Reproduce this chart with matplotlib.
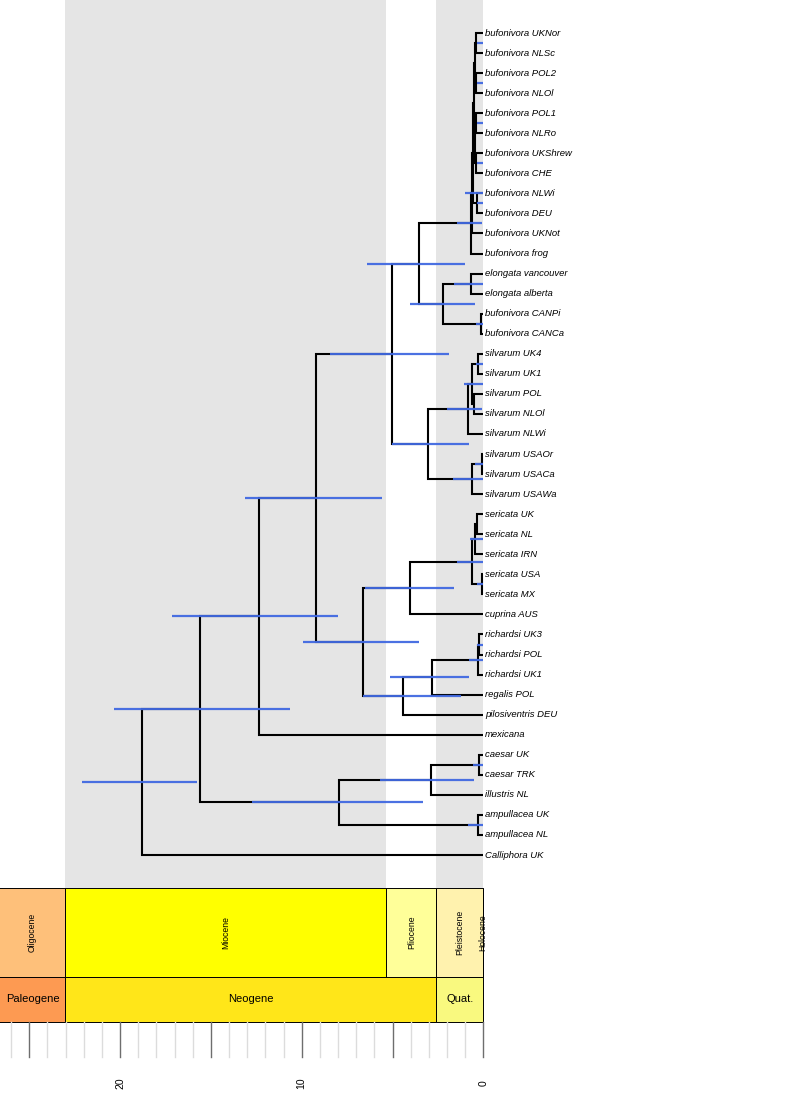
import matplotlib
matplotlib.use("Agg")
import matplotlib.pyplot as plt
from matplotlib.patches import Rectangle

plt.rcParams["font.family"] = ["Liberation Sans", "DejaVu Sans"]

# tips, top to bottom
tip_labels = [
    "bufonivora UKNor", "bufonivora NLSc", "bufonivora POL2", "bufonivora NLOl",
    "bufonivora POL1", "bufonivora NLRo", "bufonivora UKShrew", "bufonivora CHE",
    "bufonivora NLWi", "bufonivora DEU", "bufonivora UKNot", "bufonivora frog",
    "elongata vancouver", "elongata alberta", "bufonivora CANPi", "bufonivora CANCa",
    "silvarum UK4", "silvarum UK1", "silvarum POL", "silvarum NLOl", "silvarum NLWi",
    "silvarum USAOr", "silvarum USACa", "silvarum USAWa",
    "sericata UK", "sericata NL", "sericata IRN", "sericata USA", "sericata MX",
    "cuprina AUS", "richardsi UK3", "richardsi POL", "richardsi UK1", "regalis POL",
    "pilosiventris DEU", "mexicana", "caesar UK", "caesar TRK", "illustris NL",
    "ampullacea UK", "ampullacea NL", "Calliphora UK",
]

# internal nodes (children before parents); ints are tip indices
node_names = ["a1", "a2", "a3", "a4", "a5", "a6", "a7", "a8", "a9", "a10", "a11",
              "b1", "b2", "b3", "c1",
              "d1", "d2", "d3", "d4", "d5", "d6", "d7", "e1",
              "f1", "f2", "f3", "f4", "f5", "g1", "g2", "g3", "g4", "h1", "i1", "j1",
              "k1", "k2", "k3", "k4", "l1", "root"]
node_children = [(0, 1), (2, 3), (4, 5), (6, 7), ("a1", "a2"), ("a3", "a4"), ("a5", "a6"),
                 (8, 9), ("a7", "a8"), ("a9", 10), ("a10", 11),
                 (12, 13), (14, 15), ("b1", "b2"), ("a11", "b3"),
                 (16, 17), (18, 19), ("d1", "d2"), ("d3", 20), (21, 22), ("d5", 23),
                 ("d4", "d6"), ("c1", "d7"),
                 (24, 25), ("f1", 26), (27, 28), ("f2", "f3"), ("f4", 29),
                 (30, 31), ("g1", 32), ("g2", 33), ("g3", 34), ("f5", "g4"),
                 ("e1", "h1"), ("i1", 35),
                 (36, 37), ("k1", 38), (39, 40), ("k2", "k3"), ("j1", "k4"), ("l1", 41)]
node_ages = [0.38, 0.38, 0.38, 0.38, 0.48, 0.48, 0.53, 0.37, 0.57, 0.61, 0.69,
             0.68, 0.14, 2.20, 3.52,
             0.27, 0.51, 0.60, 0.86, 0.09, 0.64, 3.06, 5.01,
             0.33, 0.46, 0.09, 0.64, 4.04, 0.22, 0.31, 2.84, 4.40, 6.61, 9.21, 12.33,
             0.25, 2.88, 0.31, 7.96, 15.60, 18.81]
# 95% HPD of node ages (None = no bar drawn)
hpd_low = [0.0, 0.0, 0.0, 0.0, None, None, None, 0.0, None, 0.03, 0.09,
           0.0, 0.0, 0.46, 1.00,
           0.0, None, 0.0, 0.09, 0.0, 0.0, 0.77, 1.87,
           None, 0.0, 0.0, 0.03, 1.61, 0.0, 0.0, 0.79, 1.24, 3.52, 5.60, 8.02,
           0.0, 0.51, 0.0, 3.32, 10.64, 15.75]
hpd_high = [0.33, 0.33, 0.33, 0.33, None, None, None, 0.33, None, 1.01, 1.46,
            1.60, 0.42, 4.04, 6.39,
            0.40, None, 1.05, 2.00, 0.46, 1.65, 5.04, 8.44,
            None, 0.73, 0.36, 1.43, 6.51, 0.36, 0.77, 5.14, 6.61, 9.93, 13.10, 17.16,
            0.55, 5.69, 0.86, 12.75, 20.34, 22.08]

epoch_names = ["Oligocene", "Miocene", "Pliocene", "Pleistocene", "Holocene"]
epoch_start = [33.9, 23.03, 5.333, 2.58, 0.0117]
epoch_end = [23.03, 5.333, 2.58, 0.0117, 0.0]
epoch_colors = ["#FEC07A", "#FFFF00", "#FFFF99", "#FFF2AE", "#FEF2E0"]
shaded = [False, True, False, True, True]

period_names = ["Paleogene", "Neogene", "Quat."]
period_start = [66.0, 23.03, 2.58]
period_end = [23.03, 2.58, 0.0]
period_colors = ["#FD9A52", "#FFE619", "#F9F97F"]

major_ticks = [0, 5, 10, 15, 20, 25]
tick_labels = {0: "0", 10: "10", 20: "20"}

X_LIM = (26.61, -16.72)
fig = plt.figure(figsize=(7.87, 11.12), dpi=100)
split = 224 / 1112
ax = fig.add_axes([0, split, 1, 1 - split])
ts = fig.add_axes([0, 0, 1, split])
for a in (ax, ts):
    a.set_xlim(*X_LIM)
    a.axis("off")
ax.set_ylim(43.645, -0.646)
ts.set_ylim(1112, 888)

# grey bands behind the tree
for lo, hi, s in zip(epoch_end, epoch_start, shaded):
    if s:
        ax.axvspan(hi, lo, color="#E5E5E5", lw=0, zorder=0)

# node coordinates
pos_y = {i: i + 1 for i in range(len(tip_labels))}
pos_x = {i: 0.0 for i in range(len(tip_labels))}
for name, kids, age in zip(node_names, node_children, node_ages):
    pos_y[name] = sum(pos_y[k] for k in kids) / len(kids)
    pos_x[name] = age

for name, (c1, c2) in zip(node_names, node_children):
    xs = [pos_x[c1], pos_x[name], pos_x[name], pos_x[c2]]
    ys = [pos_y[c1], pos_y[c1], pos_y[c2], pos_y[c2]]
    ax.plot(xs, ys, color="black", lw=1.5, solid_joinstyle="miter",
            solid_capstyle="butt", zorder=2)

for name, lo, hi in zip(node_names, hpd_low, hpd_high):
    if lo is None:
        continue
    ax.plot([hi, lo], [pos_y[name]] * 2, color="#4169E1", lw=1.6, alpha=0.95,
            solid_capstyle="butt", zorder=3)

for i, lab in enumerate(tip_labels):
    ax.text(-0.09, i + 1, lab, fontsize=6.8, fontstyle="italic",
            ha="left", va="center", zorder=4)

# time scale: epochs, periods, ticks
for nm, s, e, c in zip(epoch_names, epoch_start, epoch_end, epoch_colors):
    ts.add_patch(Rectangle((e, 888), s - e, 89, facecolor=c, edgecolor="black", lw=0.7))
    mid = (min(s, X_LIM[0]) + e) / 2
    ts.text(mid, 932.5, nm, rotation=90, fontsize=6.2, ha="center", va="center")
for nm, s, e, c in zip(period_names, period_start, period_end, period_colors):
    ts.add_patch(Rectangle((e, 977), s - e, 45, facecolor=c, edgecolor="black", lw=0.7))
    mid = (min(s, X_LIM[0]) + e) / 2
    ts.text(mid, 999.5, nm, fontsize=8, ha="center", va="center")

for t in range(0, 27):
    col = "#6E6E6E" if t in major_ticks else "#DCDCDC"
    ts.plot([t, t], [1022, 1057], color=col, lw=1.0, zorder=1 if t not in major_ticks else 2)
for t, lab in tick_labels.items():
    ts.text(t, 1083, lab, rotation=90, fontsize=7.5, ha="center", va="center")

fig.savefig("out.png", dpi=100)
